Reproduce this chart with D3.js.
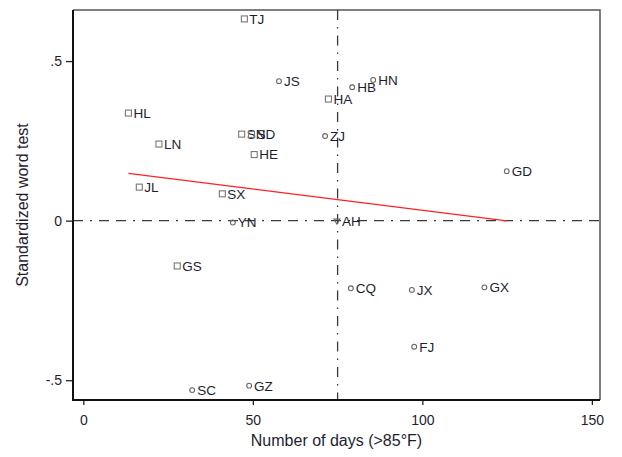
<!DOCTYPE html>
<html>
<head>
<meta charset="utf-8">
<script src="https://cdn.jsdelivr.net/npm/d3@7"></script>
<style>
  body { margin: 0; background: #fff; }
  text { font-family: "Liberation Sans", Arial, sans-serif; }
</style>
</head>
<body>
<div id="chart"></div>
<script>
// provinces, days above 85F, standardized word test score
var provinces = ["TJ", "JS", "HL", "SN", "SD", "LN", "HE", "JL", "SX", "HN", "HB", "HA",
                 "ZJ", "YN", "GS", "GD", "AH", "CQ", "JX", "GX", "FJ", "SC", "GZ"];
var days      = [47.5, 57.7, 13.3, 46.7, 49.6, 22.3, 50.4, 16.5, 41.0, 85.5, 79.3, 72.3,
                 71.3, 44.1, 27.7, 124.9, 74.8, 78.9, 96.9, 118.3, 97.6, 32.1, 48.9];
var scores    = [0.632, 0.437, 0.337, 0.271, 0.270, 0.240, 0.207, 0.105, 0.084, 0.441, 0.418, 0.381,
                 0.265, -0.006, -0.142, 0.155, -0.003, -0.212, -0.217, -0.209, -0.395, -0.531, -0.517];
var shapes    = ["square", "circle", "square", "square", "square", "square", "square", "square", "square", "circle", "circle", "square",
                 "circle", "circle", "square", "circle", "triangle", "circle", "circle", "circle", "circle", "circle", "circle"];

// fitted line endpoints
var fitX = [13.3, 124.9];
var fitY = [0.148, -0.001];

var xTicks = [0, 50, 100, 150];
var yTicks = [-0.5, 0, 0.5];
var yTickLabels = ["-.5", "0", ".5"];
var refX = 75;
var refY = 0;

var width = 622, height = 457;
var margin = {top: 10, right: 22, bottom: 57, left: 73};

var svg = d3.select("#chart").append("svg")
    .attr("width", width)
    .attr("height", height);

var x = d3.scaleLinear().domain([-3.05, 152.4]).range([margin.left, width - margin.right]);
var y = d3.scaleLinear().domain([-0.562, 0.66]).range([height - margin.bottom, margin.top]);

var x0 = margin.left, x1 = width - margin.right;
var y0 = height - margin.bottom, y1 = margin.top;

// top / right frame
svg.append("path")
    .attr("d", "M" + x0 + "," + y1 + "H" + x1 + "V" + y0)
    .attr("fill", "none")
    .attr("stroke", "#555")
    .attr("stroke-width", 1.5);

// reference lines
svg.append("line")
    .attr("x1", x0).attr("x2", x1)
    .attr("y1", y(refY)).attr("y2", y(refY))
    .attr("stroke", "#3a3a3a")
    .attr("stroke-width", 1.3)
    .attr("stroke-dasharray", "10,7,2,7,10,7");

svg.append("line")
    .attr("x1", x(refX)).attr("x2", x(refX))
    .attr("y1", y1).attr("y2", y0)
    .attr("stroke", "#3a3a3a")
    .attr("stroke-width", 1.3)
    .attr("stroke-dasharray", "10,7,1.5,7");

// fit line
svg.append("line")
    .attr("x1", x(fitX[0])).attr("y1", y(fitY[0]))
    .attr("x2", x(fitX[1])).attr("y2", y(fitY[1]))
    .attr("stroke", "#ff2020")
    .attr("stroke-width", 1.3);

// axes
var xAxis = svg.append("g")
    .attr("transform", "translate(0," + y0 + ")")
    .call(d3.axisBottom(x).tickValues(xTicks).tickSize(5).tickPadding(10));
var yAxis = svg.append("g")
    .attr("transform", "translate(" + x0 + ",0)")
    .call(d3.axisLeft(y).tickValues(yTicks).tickSize(7).tickPadding(4)
        .tickFormat(function(d, i) { return yTickLabels[i]; }));

[xAxis, yAxis].forEach(function(g) {
    g.select(".domain").remove();
    g.selectAll(".tick line").attr("stroke", "#222").attr("stroke-width", 1.3);
    g.selectAll(".tick text")
        .attr("fill", "#1e1e30")
        .style("font-size", "14px")
        .style("font-family", "'Liberation Sans', Arial, sans-serif");
});

// left / bottom axis lines
svg.append("path")
    .attr("d", "M" + x0 + "," + y1 + "V" + y0 + "H" + x1)
    .attr("fill", "none")
    .attr("stroke", "#111")
    .attr("stroke-width", 2);

// points
var data = provinces.map(function(p, i) {
    return {name: p, x: days[i], y: scores[i], shape: shapes[i]};
});

var pts = svg.append("g").selectAll("g")
    .data(data)
    .enter().append("g")
    .attr("transform", function(d) { return "translate(" + x(d.x) + "," + y(d.y) + ")"; });

pts.each(function(d) {
    var g = d3.select(this);
    if (d.shape === "square") {
        g.append("rect").attr("x", -3).attr("y", -3).attr("width", 6).attr("height", 6)
            .attr("fill", "none").attr("stroke", "#777").attr("stroke-width", 1.1);
    } else if (d.shape === "circle") {
        g.append("circle").attr("r", 2.4)
            .attr("fill", "none").attr("stroke", "#666").attr("stroke-width", 1.1);
    } else {
        g.append("path").attr("d", "M-3,-2.5H3L0,2.5Z")
            .attr("fill", "none").attr("stroke", "#666").attr("stroke-width", 1.1);
    }
});

pts.append("text")
    .attr("x", 5)
    .attr("dy", "0.36em")
    .attr("fill", "#1e1e30")
    .style("font-size", "13.5px")
    .text(function(d) { return d.name; });

// axis titles
svg.append("text")
    .attr("x", (x0 + x1) / 2)
    .attr("y", 446)
    .attr("text-anchor", "middle")
    .attr("fill", "#1e1e30")
    .style("font-size", "16px")
    .text("Number of days (>85°F)");

svg.append("text")
    .attr("transform", "translate(28," + ((y0 + y1) / 2) + ") rotate(-90)")
    .attr("text-anchor", "middle")
    .attr("fill", "#1e1e30")
    .style("font-size", "16px")
    .text("Standardized word test");
</script>
</body>
</html>
